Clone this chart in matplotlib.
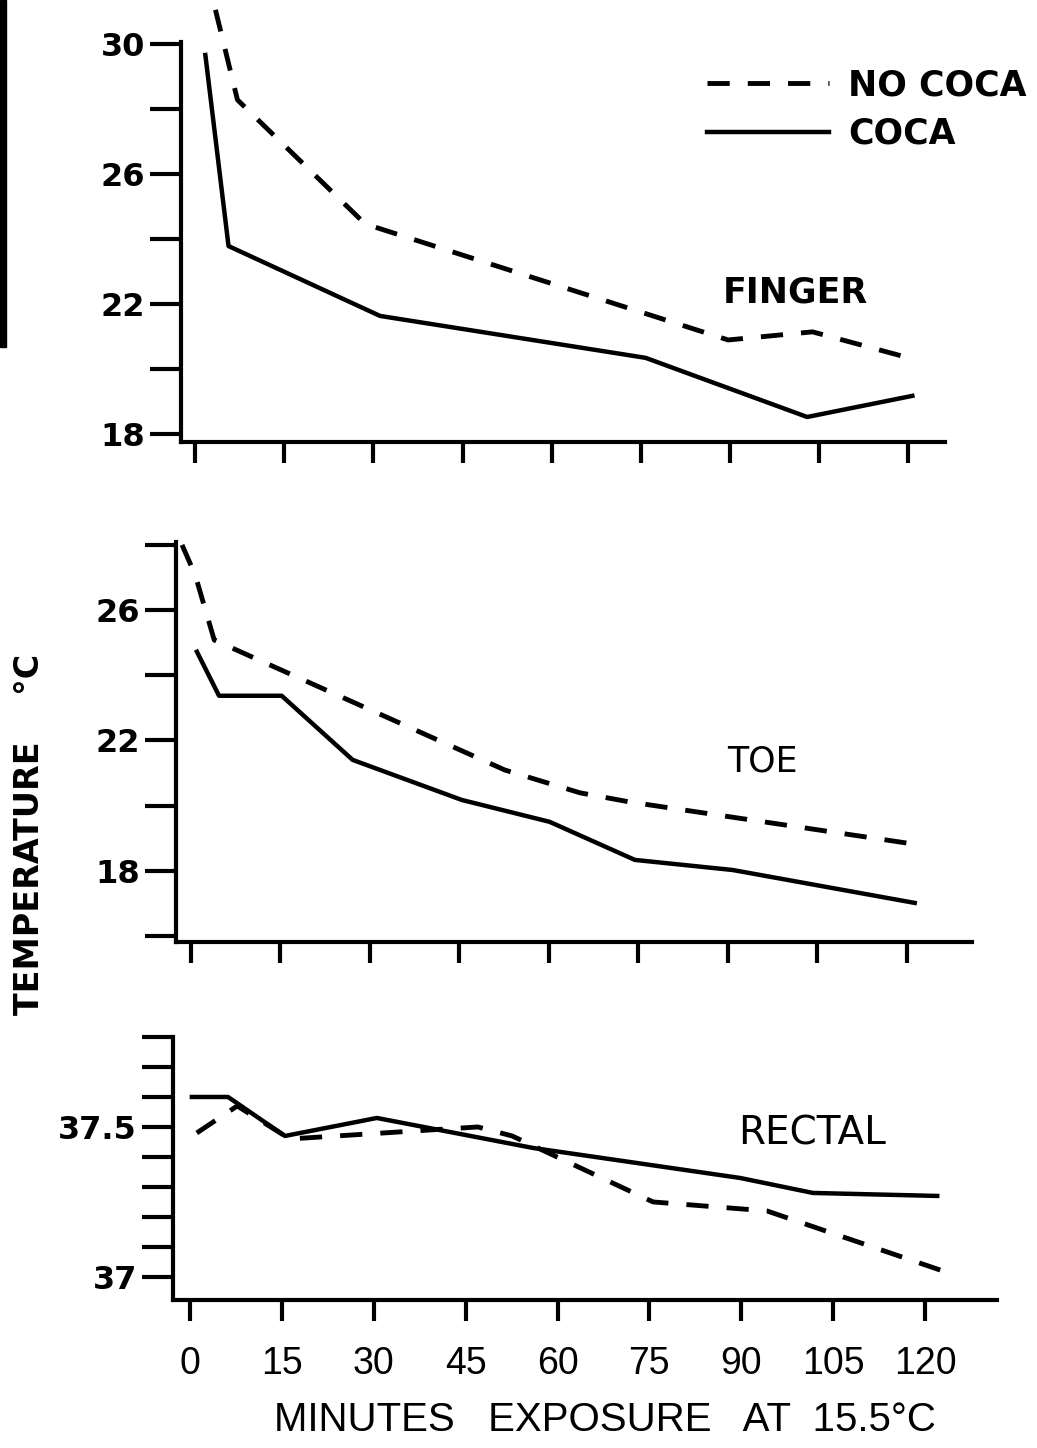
import matplotlib
matplotlib.use("Agg")
import matplotlib.pyplot as plt
from matplotlib.lines import Line2D
from matplotlib.patches import Rectangle

plt.rcParams['font.family'] = ['DejaVu Sans']
plt.rcParams['lines.scale_dashes'] = False

W, H = 1037, 1448
NARROW = ['Liberation Sans', 'DejaVu Sans']

# minutes of exposure at 15.5 C
minutes = [0, 15, 30, 45, 60, 75, 90, 105, 120]

# finger temperature (deg C)
finger_nococa_t = [3.4, 7.1, 28.6, 89.7, 103.9, 120.7]
finger_nococa = [31.05, 28.28, 24.46, 20.89, 21.14, 20.31]
finger_coca_t = [1.7, 5.6, 31.1, 75.8, 103.0, 120.7]
finger_coca = [29.66, 23.78, 21.63, 20.34, 18.52, 19.17]

# toe temperature
toe_nococa_t = [-1.5, 0.7, 3.9, 52.6, 65.2, 73.5, 119.9]
toe_nococa = [28.0, 27.08, 25.08, 21.09, 20.39, 20.11, 18.85]
toe_coca_t = [1.0, 4.7, 15.2, 27.1, 45.4, 60.1, 74.4, 90.8, 121.3]
toe_coca = [24.72, 23.37, 23.37, 21.40, 20.17, 19.50, 18.33, 18.02, 17.01]

# rectal temperature
rectal_nococa_t = [1.1, 7.7, 16.3, 39.2, 47.0, 52.6, 75.6, 94.2, 122.9]
rectal_nococa = [37.48, 37.57, 37.46, 37.49, 37.50, 37.47, 37.25, 37.22, 37.02]
rectal_coca_t = [0.3, 6.2, 15.5, 30.5, 56.0, 89.8, 101.7, 122.0]
rectal_coca = [37.60, 37.60, 37.47, 37.53, 37.43, 37.33, 37.28, 37.27]

finger_ticks = [18, 20, 22, 24, 26, 28, 30]
finger_labels = ['18', '', '22', '', '26', '', '30']
toe_ticks = [16, 18, 20, 22, 24, 26, 28]
toe_labels = ['', '18', '', '22', '', '26', '']
rectal_ticks = [37.0, 37.1, 37.2, 37.3, 37.4, 37.5, 37.6, 37.7, 37.8]
rectal_labels = ['37', '', '', '', '', '37.5', '', '', '']

DASH = (0, (16, 13))


def panel(left, right, top, bottom):
    return fig.add_axes([left / W, 1 - bottom / H, (right - left) / W, (bottom - top) / H])


def style(ax, yticks, ylabels):
    for s in ['top', 'right']:
        ax.spines[s].set_visible(False)
    for s in ['left', 'bottom']:
        ax.spines[s].set_linewidth(3)
    ax.set_xticks(minutes)
    ax.set_yticks(yticks, ylabels)
    ax.tick_params(axis='y', length=22, width=3, pad=4, labelsize=23)
    ax.tick_params(axis='x', length=15, width=3, labelbottom=False)
    for t in ax.get_yticklabels():
        t.set_fontweight('bold')


fig = plt.figure(figsize=(W / 100, H / 100), dpi=100)
fig.add_artist(Rectangle((0, 1 - 347 / H), 6 / W, 347 / H, color='black',
                         transform=fig.transFigure))

# finger
ax1 = panel(181, 945, 42, 442)
ax1.plot(finger_nococa_t, finger_nococa, color='black', lw=3.5, linestyle=DASH, clip_on=False)
ax1.plot(finger_coca_t, finger_coca, color='black', lw=3.2, clip_on=False)
ax1.set_xlim(-2.4, 126.2)
ax1.set_ylim(17.75, 30.06)
style(ax1, finger_ticks, finger_labels)
ax1.text(101, 22.34, 'FINGER', ha='center', va='center', fontsize=25, fontweight='bold')

handles = [Line2D([], [], color='black', lw=3.5, linestyle=DASH),
           Line2D([], [], color='black', lw=3.2)]
ax1.legend(handles, ['NO COCA', 'COCA'], loc='upper left',
           bbox_to_anchor=(690 / W, 1 - 51 / H), bbox_transform=fig.transFigure,
           frameon=False, handlelength=3.5, handletextpad=0.55, borderpad=0,
           labelspacing=0.42, prop={'size': 25, 'weight': 'bold'})

# toe
ax2 = panel(176, 972, 542, 942)
ax2.plot(toe_nococa_t, toe_nococa, color='black', lw=3.5, linestyle=DASH, clip_on=False)
ax2.plot(toe_coca_t, toe_coca, color='black', lw=3.2, clip_on=False)
ax2.set_xlim(-2.51, 130.9)
ax2.set_ylim(15.81, 28.09)
style(ax2, toe_ticks, toe_labels)
ax2.text(95.7, 21.34, 'TOE', ha='center', va='center', fontsize=25)

# rectal
ax3 = panel(173, 997, 1037, 1300)
ax3.plot(rectal_nococa_t, rectal_nococa, color='black', lw=3.5, linestyle=DASH, clip_on=False)
ax3.plot(rectal_coca_t, rectal_coca, color='black', lw=3.2, clip_on=False)
ax3.set_xlim(-2.78, 131.76)
ax3.set_ylim(36.923, 37.8)
style(ax3, rectal_ticks, rectal_labels)
ax3.tick_params(axis='x', labelbottom=True, pad=18)
ax3.set_xticks(minutes, [str(m) for m in minutes], family=NARROW, fontsize=27)
ax3.text(101.6, 37.477, 'RECTAL', ha='center', va='center', fontsize=28)

fig.text(30 / W, 1 - 834 / H, 'TEMPERATURE    \u00b0C', rotation=90, ha='center',
         va='center', fontsize=24, fontweight='bold')
fig.text(605 / W, 1 - 1420 / H, 'MINUTES   EXPOSURE   AT  15.5\u00b0C', ha='center',
         va='center', fontsize=29, family=NARROW)

fig.savefig('out.png', dpi=100)
